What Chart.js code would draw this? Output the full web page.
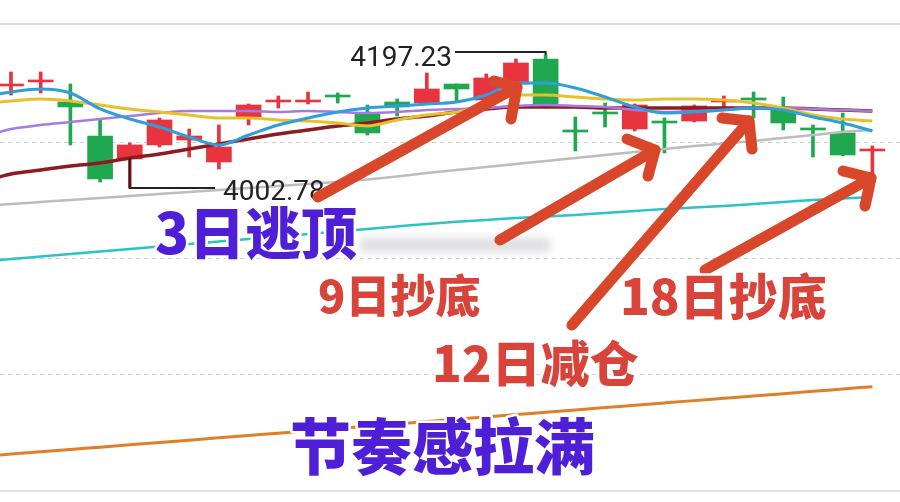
<!DOCTYPE html>
<html>
<head>
<meta charset="utf-8">
<script src="https://cdn.jsdelivr.net/npm/chart.js@4.4.1/dist/chart.umd.min.js"></script>
<style>
  html, body { margin: 0; padding: 0; background: #fff; }
  #wrap { width: 900px; height: 502px; }
</style>
</head>
<body>
<div id="wrap"><canvas id="chart" width="900" height="502"></canvas></div>
<script>
// daily candles, index 0..29
const open = [4151.9, 4157.8, 4128.5, 4078.8, 4045.2, 4065.7, 4072.9, 4040.8, 4106.6, 4128.5,
  4128.5, 4138.7, 4112.4, 4128.5, 4127.0, 4154.8, 4131.4, 4154.8, 4191.4, 4087.6,
  4113.9, 4089.0, 4100.7, 4100.7, 4128.5, 4134.4, 4116.8, 4090.5, 4083.2, 4056.9];
const close = [4154.8, 4160.7, 4121.2, 4015.9, 4065.7, 4102.2, 4078.8, 4062.7, 4124.1, 4131.4,
  4131.4, 4135.8, 4083.2, 4121.2, 4147.5, 4147.5, 4163.6, 4185.5, 4125.6, 4084.6,
  4111.0, 4124.1, 4097.8, 4122.7, 4131.4, 4131.4, 4097.8, 4087.6, 4051.0, 4059.8];
const high = [4172.4, 4172.4, 4154.8, 4103.7, 4068.6, 4105.1, 4089.0, 4094.9, 4125.6, 4137.3,
  4143.1, 4141.7, 4124.1, 4132.9, 4170.9, 4154.8, 4169.5, 4191.4, 4197.23, 4106.6,
  4127.0, 4125.6, 4105.1, 4124.1, 4137.3, 4143.1, 4135.8, 4094.9, 4112.4, 4064.2];
const low = [4138.7, 4141.7, 4065.7, 4011.5, 4002.78, 4062.7, 4048.1, 4030.5, 4094.9, 4119.7,
  4125.6, 4127.0, 4080.2, 4108.0, 4125.6, 4128.5, 4130.0, 4153.4, 4119.7, 4056.9,
  4091.9, 4086.1, 4054.0, 4099.3, 4121.2, 4105.1, 4087.6, 4048.1, 4050.0, 4021.8];

// moving averages: first value sits just left of candle 0
const maX = [-0.4, 0, 1, 2, 3, 4, 5, 6, 7, 8, 9, 10, 11, 12, 13, 14, 15, 16, 17, 18, 19,
  20, 21, 22, 23, 24, 25, 26, 27, 28, 29];
const ma5 = [4140.2, 4143.1, 4147.5, 4141.7, 4118.3, 4103.7, 4091.9, 4077.3, 4065.7, 4080.2,
  4094.9, 4105.1, 4113.9, 4119.7, 4122.7, 4125.6, 4128.5, 4138.7, 4156.3, 4156.3,
  4149.0, 4135.8, 4121.2, 4112.4, 4113.9, 4116.8, 4119.7, 4116.8, 4106.6, 4097.8, 4086.1];
const ma10 = [4128.5, 4130.0, 4132.9, 4130.0, 4124.1, 4118.3, 4113.9, 4109.5, 4105.1, 4105.1,
  4102.2, 4100.7, 4097.8, 4093.4, 4102.2, 4109.5, 4113.9, 4124.1, 4138.7, 4138.7,
  4135.8, 4132.9, 4131.4, 4132.9, 4132.9, 4131.4, 4127.0, 4119.7, 4109.5, 4103.7, 4100.7];
const ma20 = [4084.6, 4089.0, 4094.9, 4099.3, 4103.7, 4108.0, 4112.4, 4115.3, 4115.3, 4115.3,
  4113.9, 4115.3, 4113.9, 4112.4, 4113.9, 4116.8, 4118.3, 4119.7, 4122.7, 4124.1,
  4122.7, 4121.2, 4116.8, 4113.9, 4115.3, 4116.8, 4119.7, 4119.7, 4118.3, 4116.8, 4115.3];
const ma30 = [4018.9, 4023.3, 4029.1, 4035.0, 4039.3, 4046.6, 4052.5, 4059.8, 4067.1, 4074.4,
  4081.7, 4087.6, 4093.4, 4097.8, 4103.7, 4108.0, 4113.9, 4118.3, 4121.2, 4121.2,
  4121.2, 4119.7, 4119.7, 4119.7, 4119.7, 4119.7, 4119.7, 4119.7, 4118.3, 4116.8, 4115.3];
const ma60 = [3978.0, 3979.4, 3982.3, 3985.2, 3988.2, 3991.1, 3994.0, 3996.9, 3999.9, 4002.8,
  4005.7, 4008.6, 4011.5, 4015.2, 4019.6, 4024.7, 4029.1, 4033.5, 4037.9, 4042.3,
  4046.6, 4051.0, 4055.4, 4059.8, 4064.2, 4067.8, 4071.5, 4075.9, 4080.2, 4084.6, 4087.6];
const ma120 = [3897.5, 3899.0, 3902.6, 3906.3, 3909.9, 3913.6, 3917.2, 3920.9, 3924.6, 3928.2,
  3931.9, 3935.5, 3939.2, 3942.8, 3946.5, 3950.2, 3953.5, 3956.0, 3958.9, 3961.1,
  3963.3, 3966.2, 3969.2, 3972.1, 3974.3, 3976.5, 3979.4, 3982.3, 3985.2, 3987.4, 3989.6];
const ma250 = [3612.4, 3613.7, 3617.1, 3620.5, 3623.9, 3627.3, 3630.7, 3634.1, 3637.5, 3640.9,
  3644.3, 3647.7, 3651.1, 3654.5, 3657.9, 3661.3, 3664.7, 3668.1, 3671.5, 3674.9,
  3678.3, 3681.7, 3685.1, 3688.5, 3691.9, 3695.3, 3698.7, 3702.1, 3705.5, 3708.9, 3712.3];

const gridTicks = [3730, 3900, 4070];
const maxIdx = 18, minIdx = 4;   // candles carrying the high / low labels

const RED = "#e8343e";
const GREEN = "#1fa84f";
const candleColor = open.map((o, i) => (close[i] >= open[i] ? RED : GREEN));

function maLine(values, color, width) {
  return {
    type: "line",
    data: values.map((v, i) => ({ x: maX[i], y: v })),
    borderColor: color,
    borderWidth: width,
    pointRadius: 0,
    tension: 0.4,
    cubicInterpolationMode: "monotone",
    order: 0,
  };
}

const labelsPlugin = {
  id: "labels",
  afterDatasetsDraw(chart) {
    const { ctx, scales } = chart;
    const xs = scales.x, ys = scales.y;
    ctx.save();

    // panel borders
    ctx.fillStyle = "#d9d9d9";
    ctx.fillRect(0, 23, 900, 2);
    ctx.fillStyle = "#e3e3e3";
    ctx.fillRect(0, 490, 900, 2);

    // high label
    const hx = xs.getPixelForValue(maxIdx), hy = ys.getPixelForValue(high[maxIdx]);
    ctx.strokeStyle = "#222";
    ctx.lineWidth = 2;
    ctx.beginPath();
    ctx.moveTo(455, hy - 3);
    ctx.lineTo(hx, hy - 3);
    ctx.lineTo(hx, hy);
    ctx.stroke();
    ctx.fillStyle = "#222";
    ctx.font = "28px Roboto";
    ctx.textAlign = "right";
    ctx.textBaseline = "middle";
    ctx.fillText(high[maxIdx].toFixed(2), 452, hy + 4);

    // low label
    const lx = xs.getPixelForValue(minIdx), ly = ys.getPixelForValue(low[minIdx]);
    ctx.beginPath();
    ctx.moveTo(lx, ly - 30);
    ctx.lineTo(lx, ly);
    ctx.lineTo(215, ly);
    ctx.stroke();
    ctx.textAlign = "left";
    ctx.fillText(low[minIdx].toFixed(2), 223, ly + 5);

    // blurred watermark
    ctx.save();
    ctx.filter = "blur(4px)";
    ctx.fillStyle = "rgba(200,200,205,0.6)";
    ctx.fillRect(360, 238, 190, 14);
    ctx.restore();

    // arrows
    const arrows = [
      [318, 197, 517, 87, 494, 81, 511, 119],
      [500, 240, 655, 150, 627, 139, 648, 176],
      [572, 325, 749, 121, 722, 118, 752, 149],
      [705, 270, 871, 178, 843, 171, 865, 206],
    ];
    ctx.strokeStyle = "#d9472b";
    ctx.lineCap = "round";
    ctx.lineJoin = "round";
    ctx.lineWidth = 11;
    arrows.forEach(a => {
      ctx.beginPath();
      ctx.moveTo(a[0], a[1]);
      ctx.lineTo(a[2], a[3]);
      ctx.stroke();
      ctx.beginPath();
      ctx.moveTo(a[4], a[5]);
      ctx.lineTo(a[2], a[3]);
      ctx.lineTo(a[6], a[7]);
      ctx.stroke();
    });

    // captions
    const captions = [
      ["3日逃顶", 155, 233, 56, "#4f1fd8"],
      ["9日抄底", 318, 296, 45, "#d8433a"],
      ["12日减仓", 432, 363, 49, "#d8433a"],
      ["18日抄底", 620, 296, 49, "#d8433a"],
      ["节奏感拉满", 290, 447, 61, "#4f1fd8"],
    ];
    ctx.textAlign = "left";
    ctx.textBaseline = "middle";
    captions.forEach(([t, x, y, size, color]) => {
      ctx.font = "900 " + size + "px 'Noto Sans CJK SC'";
      ctx.lineWidth = 5;
      ctx.strokeStyle = "#fff";
      ctx.strokeText(t, x, y);
      ctx.fillStyle = color;
      ctx.fillText(t, x, y);
    });
    ctx.restore();
  },
};

new Chart(document.getElementById("chart"), {
  type: "bar",
  data: {
    datasets: [
      maLine(ma5, "#2f9fdc", 3),
      maLine(ma10, "#e7c12b", 3),
      maLine(ma20, "#a57be0", 2.5),
      maLine(ma30, "#8c1c22", 3.5),
      maLine(ma60, "#bdbdbd", 2.5),
      maLine(ma120, "#2cc3c6", 2.5),
      maLine(ma250, "#e07f2a", 3),
      {
        type: "bar",
        data: open.map((o, i) => ({ x: i, y: [low[i], high[i]] })),
        backgroundColor: candleColor,
        barThickness: 3,
        grouped: false,
        order: 2,
      },
      {
        type: "bar",
        data: open.map((o, i) => ({ x: i, y: [o, close[i]] })),
        backgroundColor: candleColor,
        barThickness: 25,
        grouped: false,
        order: 1,
      },
    ],
  },
  options: {
    responsive: false,
    animation: false,
    layout: { padding: 0 },
    plugins: {
      legend: { display: false },
      tooltip: { enabled: false },
    },
    scales: {
      x: {
        type: "linear",
        display: false,
        offset: false,
        min: -0.37,
        max: 29.93,
      },
      y: {
        min: 3543.7,
        max: 4277.6,
        afterBuildTicks(axis) {
          axis.ticks = gridTicks.map(v => ({ value: v }));
        },
        afterFit(axis) {
          axis.width = 0;
        },
        ticks: { display: false },
        border: { display: false, dash: [4, 4] },
        grid: { color: "#cfcfcf", drawTicks: false, lineWidth: 1 },
      },
    },
  },
  plugins: [labelsPlugin],
});
</script>
</body>
</html>
